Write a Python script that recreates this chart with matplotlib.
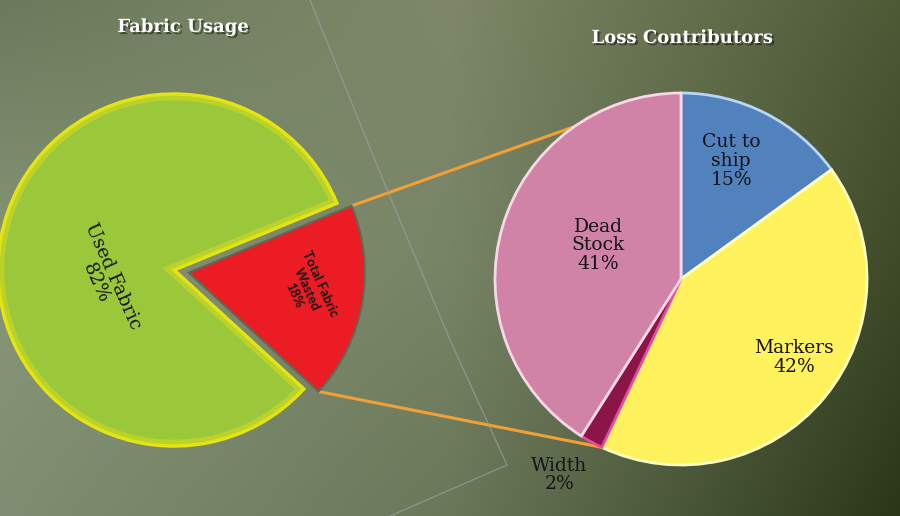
import numpy as np
import matplotlib
matplotlib.use("Agg")
import matplotlib.pyplot as plt
import matplotlib.patheffects as pe
from matplotlib.patches import Wedge

# data
usage_labels = ["Total Fabric\nWasted", "Used Fabric"]
usage_values = [18, 82]
loss_labels = ["Cut to\nship", "Markers", "Width", "Dead\nStock"]
loss_values = [15, 42, 2, 41]

W, H = 900, 516
fig = plt.figure(figsize=(9, 5.16), dpi=100)
ax = fig.add_axes([0, 0, 1, 1])

# background gradient (3x3 control colours, top row first)
ctrl = np.array([
    ["#6B7A5C", "#7E8868", "#4E5A36"],
    ["#879577", "#778466", "#3E4A28"],
    ["#7F8E72", "#6A785A", "#2B3618"],
])
G = np.array([[matplotlib.colors.to_rgb(c) for c in row] for row in ctrl])
yy, xx = np.mgrid[0:H, 0:W]
u = xx / (W - 1) * 2
v = yy / (H - 1) * 2
i0 = np.clip(np.floor(v).astype(int), 0, 1)
j0 = np.clip(np.floor(u).astype(int), 0, 1)
fv = (v - i0)[..., None]
fu = (u - j0)[..., None]
bg = (G[i0, j0] * (1 - fu) * (1 - fv) + G[i0, j0 + 1] * fu * (1 - fv)
      + G[i0 + 1, j0] * (1 - fu) * fv + G[i0 + 1, j0 + 1] * fu * fv)
ax.imshow(bg, extent=[0, W, 0, H], origin="upper", zorder=0)

# faint decorative lines
ax.plot([310, 383, 450, 507, 390], [H, H - 180, H - 340, H - 465, H - 516],
        color="#97A3A3", lw=0.9, alpha=0.7, zorder=1)

# left pie
c1 = (174, H - 270)
r1 = 176
w1, t1 = ax.pie(usage_values, colors=["#EC1C24", "#9BC83A"], startangle=-42.5,
                center=c1, radius=r1, explode=[15, 0],
                wedgeprops=dict(linewidth=2.5), frame=True)
w1[0].set_edgecolor("#5E6A52")
w1[0].set_linewidth(1.5)
w1[1].set_edgecolor("#E6E612")

# soft inner glow on the green wedge
g = w1[1]
glow = Wedge(g.center, g.r, g.theta1, g.theta2, fill=False, edgecolor="#E0E018",
             linewidth=9, alpha=0.45, zorder=g.get_zorder() + 0.1)
ax.add_patch(glow)
glow.set_clip_path(g)

# right pie
c2 = (681, H - 279)
r2 = 186
loss_colors = ["#5282BE", "#FFF25C", "#8B1548", "#D083A6"]
loss_edges = ["#B8D6F5", "#FFFFC0", "#E8489F", "#F6D8E6"]
w2, t2 = ax.pie(loss_values, colors=loss_colors, startangle=90, counterclock=False,
                center=c2, radius=r2, wedgeprops=dict(linewidth=2), frame=True)
for w, ec in zip(w2, loss_edges):
    w.set_edgecolor(ec)

ax.set_xlim(0, W)
ax.set_ylim(0, H)
ax.set_aspect("equal")
ax.axis("off")


def polar(c, r, ang):
    a = np.deg2rad(ang)
    return c[0] + r * np.cos(a), c[1] + r * np.sin(a)


# connector lines from the exploded wedge to the right pie
red = w1[0]
p_top = polar(red.center, red.r, red.theta2)
p_bot = polar(red.center, red.r, red.theta1)
q_top = polar(c2, r2, 125)
q_bot = polar(c2, r2, w2[2].theta2)
for p, q in [(p_top, q_top), (p_bot, q_bot)]:
    ax.plot([p[0], q[0]], [p[1], q[1]], color="#F0A035", lw=2.2, zorder=0.9,
            solid_capstyle="butt")

# left labels
usage_text = [f"{l}\n{v}%" for l, v in zip(usage_labels, usage_values)]
lab_dist1 = [0.68, 0.40]
lab_shift1 = [2, 18]
lab_font1 = [dict(family="Lato", size=9.5, weight="bold", linespacing=1.2),
             dict(family="DejaVu Serif", size=13.5, linespacing=1.0)]
for w, txt, d, s, f in zip(w1, usage_text, lab_dist1, lab_shift1, lab_font1):
    mid = (w.theta1 + w.theta2) / 2 + s
    x, y = polar(w.center, r1 * d, mid)
    ax.text(x, y, txt, rotation=-66, ha="center", va="center",
            rotation_mode="anchor", color="#151515", zorder=5, **f)

# right labels
lab_dist2 = [0.69, 0.74, 1.24, 0.48]
lab_shift2 = [4, 5, -3, -6]
for w, l, v, d, s in zip(w2, loss_labels, loss_values, lab_dist2, lab_shift2):
    mid = (w.theta1 + w.theta2) / 2 + s
    x, y = polar(c2, r2 * d, mid)
    ax.text(x, y, f"{l}\n{v}%", ha="center", va="center", color="#151515",
            family="DejaVu Serif", size=13.5, linespacing=1.05, zorder=5)

# titles
shadow = [pe.withSimplePatchShadow(offset=(1.5, -1.5), shadow_rgbFace="black", alpha=0.45)]
ax.text(183, H - 27, "Fabric Usage", ha="center", va="center", color="white",
        family="DejaVu Serif", weight="bold", size=13, path_effects=shadow)
ax.text(682, H - 38, "Loss Contributors", ha="center", va="center", color="white",
        family="DejaVu Serif", weight="bold", size=13, path_effects=shadow)

fig.savefig("out.png", dpi=100)
